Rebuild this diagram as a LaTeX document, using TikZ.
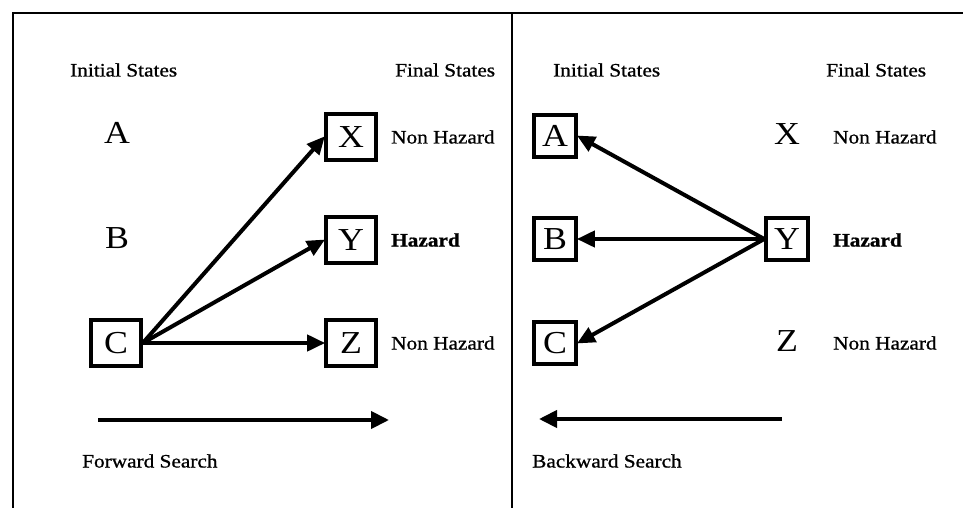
\documentclass[tikz,border=0pt]{standalone}
\usepackage{fontspec}
\setmainfont{Liberation Serif}[FakeStretch=1.12]
\newfontfamily\heavyserif{Liberation Serif}[FakeStretch=1.12, FakeBold=0.9,
  BoldFeatures={FakeBold=1.0}]
\usetikzlibrary{arrows.meta}

\tikzset{
  frameline/.style={line width=2.8pt, line cap=rect},
  statebox/.style={draw, line width=3.6pt, inner sep=0pt,
    font=\fontsize{32}{36}\selectfont},
  wideb/.style={statebox, minimum width=50pt, minimum height=46pt},
  narrowb/.style={statebox, minimum width=42pt, minimum height=42pt},
  plain/.style={statebox, draw=none},
  label/.style={anchor=west, inner sep=0pt, font=\heavyserif\fontsize{19}{22}\selectfont},
  boldlabel/.style={label, font=\heavyserif\fontsize{19}{22}\selectfont\bfseries},
  link/.style={line width=4pt, -{Triangle[length=18pt,width=16pt]}, shorten >=-1pt},
  search/.style={line width=4pt, -{Triangle[length=18pt,width=17pt]}},
}

\begin{document}
\begin{tikzpicture}[x=1pt, y=-1pt]
  \useasboundingbox (0,0) rectangle (963,508);

  % outer frame and panel divider
  \draw[frameline] (13,508) -- (13,13) -- (963,13);
  \draw[frameline] (512,13) -- (512,508);

  % ---- forward search panel ----
  \node[label] (fi) at (70,70) {Initial States};
  \node[label] (ff) at (395,70) {Final States};

  \node[plain] (fa) at (117,133) {A};
  \node[plain] (fb) at (117,238) {B};
  \node[wideb] (fc) at (116,343) {C};

  \node[wideb] (fx) at (351,137) {X};
  \node[wideb] (fy) at (351,240) {Y};
  \node[wideb] (fz) at (351,343) {Z};

  \node[label] (fxl) at (391,137) {Non Hazard};
  \node[boldlabel] (fyl) at (391,240) {Hazard};
  \node[label] (fzl) at (391,343) {Non Hazard};

  \draw[link] (fc.east) -- (fx.west);
  \draw[link] (fc.east) -- (fy.west);
  \draw[link] (fc.east) -- (fz.west);

  \coordinate (fs1) at (98,420);
  \coordinate (fs2) at (389,420);
  \draw[search] (fs1) -- (fs2);
  \node[label] (fsl) at (82,461) {Forward Search};

  % ---- backward search panel ----
  \node[label] (bi) at (553,70) {Initial States};
  \node[label] (bf) at (826,70) {Final States};

  \node[narrowb] (ba) at (555,136) {A};
  \node[narrowb] (bb) at (555,239) {B};
  \node[narrowb] (bc) at (555,343) {C};

  \node[plain] (bx) at (787,134) {X};
  \node[narrowb] (by) at (787,239) {Y};
  \node[plain] (bz) at (787,341) {Z};

  \node[label] (bxl) at (833,137) {Non Hazard};
  \node[boldlabel] (byl) at (833,240) {Hazard};
  \node[label] (bzl) at (833,343) {Non Hazard};

  \draw[link] (by.west) -- (ba.east);
  \draw[link] (by.west) -- (bb.east);
  \draw[link] (by.west) -- (bc.east);

  \coordinate (bs1) at (782,419);
  \coordinate (bs2) at (539,419);
  \draw[search] (bs1) -- (bs2);
  \node[label] (bsl) at (532,461) {Backward Search};
\end{tikzpicture}
\end{document}
